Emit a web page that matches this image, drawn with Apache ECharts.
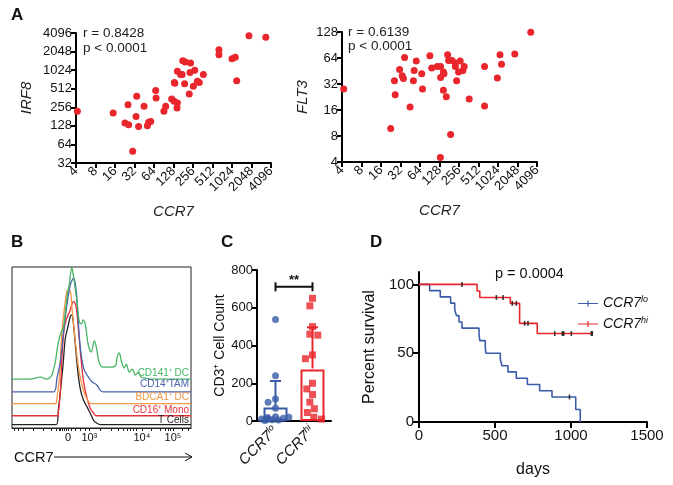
<!DOCTYPE html>
<html><head><meta charset="utf-8">
<script src="https://cdn.jsdelivr.net/npm/echarts@6/dist/echarts.min.js"></script>
<style>html,body{margin:0;padding:0;background:#fff}#c{width:673px;height:485px}</style>
</head><body><div id="c"></div><script>
const FONT = 'Liberation Sans, Arial, Helvetica, sans-serif';
const RED = '#e8262c', BLUE = '#3a5ca8';

// ---------- Panel A: IRF8 vs CCR7 ----------
const irf8CCR7 = [4.2,15,25.4,22.8,26,30,33.8,34.6,37,45,50.6,53,57,68,69,91,97,120,131,132,134,147,145,147,165,174,178,195,190,224,235,230,259,272,299,320,370,644,644,1024,1150,1210,1870,3400];
const irf8Vals = [220,206,282,142,133,49.5,182,385,125,265,129,146,151,481,362,220,265,350,320,648,630,300,249,983,867,870,1458,1390,617,419,1333,942,560,1017,676,648,867,2200,1820,1570,1650,690,3710,3490];
// ---------- Panel A: FLT3 vs CCR7 ----------
const flt3CCR7 = [4.25,22.6,25.8,26.5,31,34,35.5,37,45,50.6,52,56,68,70,91,97,118,133,133,132,147,150,147,163,171,177,190,200,225,225,235,252,267,294,308,368,635,635,1000,1100,1160,1860,3280];
const flt3Vals = [28,9.8,35,24,47,40,37,65,17.3,35,46,59,42,28,68,49,51,51,38,4.5,44,42,27,22.8,70,60,8.3,60,56,51,35,44,59,46,51,21.4,51,17.8,37.5,70,54,71,127];

// ---------- Panel B: flow histograms (display units) ----------
const histNames = ['CD141⁺ DC','CD14⁺TAM','BDCA1⁺ DC','CD16⁺ Mono','T Cells'];
const histColors = ['#45b564','#4862ad','#f39645','#e8303a','#222222'];
const histCD141 = [[0,30.4],[10.2,30.4],[14.1,31.3],[15.8,31.8],[17.5,31.0],[19.7,30.4],[21.4,31.6],[22.5,33.5],[24.2,41.0],[25.9,53.4],[27.5,59.6],[28.7,62.2],[29.8,72.1],[30.9,82.7],[32.0,89.0],[33.4,99.6],[34.2,95.2],[35.4,85.8],[36.5,76.5],[37.6,65.9],[38.7,64.7],[39.8,67.1],[41.0,64.0],[42.6,51.6],[44.3,47.2],[46.0,54.1],[47.1,50.3],[48.8,40.3],[51.0,37.8],[54.9,37.8],[57.7,38.5],[58.8,44.1],[59.9,46.6],[61.1,41.6],[62.7,37.2],[63.9,39.7],[65.5,34.7],[67.2,36.6],[68.9,32.9],[70.6,34.7],[72.2,31.6],[74.5,31.0],[77.3,30.4],[100,30.4]];
const histCD14 = [[0,22.4],[23.2,22.4],[25.1,31.0],[27.0,41.1],[28.8,59.9],[30.7,76.5],[32.6,89.0],[34.4,93.1],[35.9,84.8],[36.9,68.4],[38.2,49.7],[40.0,37.2],[41.9,32.9],[44.7,28.7],[47.5,26.6],[49.3,23.4],[51.0,22.4],[100,22.4]];
const histBDCA1 = [[0,15.1],[24.2,15.1],[25.1,18.5],[26.6,32.9],[27.9,59.9],[29.8,78.6],[31.1,85.8],[32.6,84.8],[33.5,74.6],[35.4,53.6],[37.2,37.2],[39.1,26.6],[40.9,20.4],[42.8,16.2],[44.3,15.1],[100,15.1]];
const histCD16 = [[0,7.6],[25.3,7.6],[26.0,10.0],[27.0,22.4],[27.9,43.5],[29.2,62.2],[30.7,68.4],[32.2,72.3],[34.4,78.6],[35.8,75.4],[37.2,59.9],[38.5,43.5],[40.0,28.7],[41.9,18.5],[43.7,12.3],[45.6,9.2],[47.1,7.6],[100,7.6]];
const histTcell = [[0,2.1],[24.7,2.1],[26.0,12.3],[27.0,22.4],[28.5,39.1],[29.8,55.9],[31.1,62.2],[32.6,69.2],[33.5,70.3],[34.4,64.0],[35.9,45.3],[37.2,31.0],[38.5,22.4],[40.0,17.3],[41.9,13.1],[43.7,9.2],[45.6,4.8],[47.5,2.9],[49.3,2.1],[100,2.1]];
const histLabelPos = [31.3, 43.2, 72.6, 89.9];
const histLabelText = ['0','10³','10⁴','10⁵'];
const histTickPos = [1.5,3.5,6.2,12,17.3,21.9,24.8,26.2,27.2,28.2,29.2,30.2,31.3,33,35.1,38.2,41.2,43.2,49.3,55.4,59.1,61.9,64.2,66.1,67.9,69.4,72.6,78,83,85.5,87.2,88.6,89.9,95,98.5];

// ---------- Panel C: CD3+ cell count ----------
const groupsC = ['lo','hi'];
const cd3Lo = [538,240,116,100,67,22,18,14,10,8,5,12,3,20,6];
const cd3Hi = [650,610,500,460,455,350,330,200,170,140,100,65,45,20,10];
const cd3Mean = [72, 273];
const cd3ErrTop = [212, 496];
const sigLevel = 711;

// ---------- Panel D: survival ----------
const loDays = [0,70,140,208,235,246,263,283,395,400,436,440,535,546,585,640,713,794,875,1031,1061];
const loSurv = [100,95.5,90.9,86.4,81.8,77.3,72.7,68.2,63.6,59.1,54.5,50,45.5,40.9,36.4,31.8,27.3,22.7,18.2,9.1,0];
const loCensDays = [990]; const loCensSurv = [18.2];
const hiDays = [0,382,400,601,662,778,1145];
const hiSurv = [100,95.2,90.5,86.2,71.7,64.3,64.3];
const hiCensDays = [283,509,553,614,640,695,717,893,943,952,1002,1134,1140];
const hiCensSurv = [100,90.5,90.5,86.2,86.2,71.7,71.7,64.3,64.3,64.3,64.3,64.3,64.3];

const zip = (a,b) => a.map((v,i)=>[v,b[i]]);
const plain = (v) => String(Math.round(v));

const axisLine = {show:true, lineStyle:{color:'#000', width:2}};
const axisTick = {show:true, length:5, lineStyle:{color:'#000', width:2}};
const lbl = (fs) => ({color:'#111', fontSize:fs, fontFamily:FONT});

const chart = echarts.init(document.getElementById('c'), null, {renderer:'canvas'});
const option = {
  animation:false,
  backgroundColor:'#fff',
  textStyle:{fontFamily:FONT},
  grid:[
    {left:76, top:33, width:195, height:130},
    {left:342, top:32, width:195, height:130},
    {left:12, top:267, width:179, height:161, show:true, borderColor:'#222', borderWidth:1, backgroundColor:'transparent'},
    {left:257, top:270, width:74, height:151},
    {left:419, top:272, width:228, height:150}
  ],
  xAxis:[
    {gridIndex:0, type:'log', logBase:2, min:4, max:4096, interval:1, axisLine, axisTick, splitLine:{show:false},
     axisLabel:{...lbl(13), rotate:45, margin:6, formatter:plain}, name:'CCR7', nameLocation:'middle', nameGap:41,
     nameTextStyle:{fontSize:15, fontStyle:'italic', color:'#222', fontFamily:FONT}},
    {gridIndex:1, type:'log', logBase:2, min:4, max:4096, interval:1, axisLine, axisTick, splitLine:{show:false},
     axisLabel:{...lbl(13), rotate:45, margin:6, formatter:plain}, name:'CCR7', nameLocation:'middle', nameGap:41,
     nameTextStyle:{fontSize:15, fontStyle:'italic', color:'#222', fontFamily:FONT}},
    {gridIndex:2, type:'value', min:0, max:100, axisLine:{show:true, lineStyle:{color:'#222', width:1}},
     axisTick:{show:true, length:3, customValues:histTickPos, lineStyle:{color:'#222', width:1}},
     axisLabel:{...lbl(11), customValues:histLabelPos, margin:4,
       formatter:(v)=>{const i=histLabelPos.indexOf(v); return i>=0?histLabelText[i]:'';}},
     splitLine:{show:false}},
    {gridIndex:3, type:'category', data:groupsC, jitter:30, jitterOverlap:false, jitterMargin:1,
     axisLine, axisTick:{show:false},
     axisLabel:{rotate:45, margin:8, formatter:(v)=>'{a|CCR7}{b|'+v+'}',
       rich:{a:{fontSize:15, fontStyle:'italic', color:'#111', fontFamily:FONT},
             b:{fontSize:9, fontStyle:'italic', color:'#111', fontFamily:FONT, padding:[0,0,8,0]}}}},
    {gridIndex:4, type:'value', min:0, max:1500, interval:500, axisLine, axisTick:{...axisTick, length:6},
     splitLine:{show:false}, axisLabel:{...lbl(15), margin:6, formatter:plain}, name:'days', nameLocation:'middle', nameGap:40,
     nameTextStyle:{fontSize:16, color:'#111', fontFamily:FONT}}
  ],
  yAxis:[
    {gridIndex:0, type:'log', logBase:2, min:32, max:4096, interval:1, axisLine, axisTick, splitLine:{show:false},
     axisLabel:{...lbl(13), margin:4, formatter:plain}, name:'IRF8', nameLocation:'middle', nameGap:42,
     nameTextStyle:{fontSize:15, fontStyle:'italic', color:'#222', fontFamily:FONT}},
    {gridIndex:1, type:'log', logBase:2, min:4, max:128, interval:1, axisLine, axisTick, splitLine:{show:false},
     axisLabel:{...lbl(13), margin:4, formatter:plain}, name:'FLT3', nameLocation:'middle', nameGap:32,
     nameTextStyle:{fontSize:15, fontStyle:'italic', color:'#222', fontFamily:FONT}},
    {gridIndex:2, type:'value', min:0, max:100, show:false},
    {gridIndex:3, type:'value', min:0, max:800, interval:200, axisLine, axisTick, splitLine:{show:false},
     axisLabel:{...lbl(13), margin:4}, name:'CD3⁺ Cell Count', nameLocation:'middle', nameGap:27,
     nameTextStyle:{fontSize:14, color:'#111', fontFamily:FONT}},
    {gridIndex:4, type:'value', min:0, max:109, axisLine, axisTick:{...axisTick, length:6, customValues:[0,50,100]},
     splitLine:{show:false}, axisLabel:{...lbl(15), margin:5, customValues:[0,50,100]},
     name:'Percent survival', nameLocation:'middle', nameGap:41,
     nameTextStyle:{fontSize:16, color:'#111', fontFamily:FONT}}
  ],
  legend:{
    left:573, top:290, orient:'vertical', itemGap:5, itemWidth:20, itemHeight:8,
    icon:'path://M0,3.5H20V4.5H0Z M9.4,1H10.6V7H9.4Z',
    data:['CCR7lo','CCR7hi'],
    formatter:(n)=>'{a|CCR7}{b|'+n.slice(4)+'}',
    textStyle:{rich:{a:{fontSize:14, fontStyle:'italic', color:'#111', fontFamily:FONT},
                     b:{fontSize:9, fontStyle:'italic', color:'#111', fontFamily:FONT, padding:[0,0,8,0]}}}
  },
  series:[
    {type:'scatter', xAxisIndex:0, yAxisIndex:0, data:zip(irf8CCR7, irf8Vals), symbolSize:7, itemStyle:{color:RED, opacity:1}},
    {type:'scatter', xAxisIndex:1, yAxisIndex:1, data:zip(flt3CCR7, flt3Vals), symbolSize:7, itemStyle:{color:RED, opacity:1}},
    ...[histCD141, histCD14, histBDCA1, histCD16, histTcell].map((d,i)=>({
      type:'line', xAxisIndex:2, yAxisIndex:2, data:d, smooth:0.35, showSymbol:false,
      lineStyle:{color:histColors[i], width:1.3}, z: 10-i, name:histNames[i]
    })),
    {type:'bar', xAxisIndex:3, yAxisIndex:3, data:[
        {value:cd3Mean[0], itemStyle:{borderColor:BLUE}},
        {value:cd3Mean[1], itemStyle:{borderColor:RED}}],
     barWidth:24, itemStyle:{color:'rgba(0,0,0,0)', borderWidth:2}, z:2},
    {type:'custom', xAxisIndex:3, yAxisIndex:3, z:3,
     data:groupsC.map((g,i)=>[i, cd3Mean[i], cd3ErrTop[i]]),
     renderItem:(params, api)=>{
       const i = api.value(0);
       const p0 = api.coord([i, api.value(1)]), p1 = api.coord([i, api.value(2)]);
       const c = i===0?BLUE:RED, hw=5.5;
       return {type:'group', children:[
         {type:'line', shape:{x1:p0[0],y1:p0[1]-1,x2:p1[0],y2:p1[1]}, style:{stroke:c, lineWidth:2}},
         {type:'line', shape:{x1:p1[0]-hw,y1:p1[1],x2:p1[0]+hw,y2:p1[1]}, style:{stroke:c, lineWidth:2}}
       ]};
     }},
    {type:'custom', xAxisIndex:3, yAxisIndex:3, z:3, data:[[0, sigLevel]],
     renderItem:(params, api)=>{
       const a = api.coord([0, api.value(1)]), b = api.coord([1, api.value(1)]);
       return {type:'group', children:[
         {type:'line', shape:{x1:a[0],y1:a[1],x2:b[0],y2:b[1]}, style:{stroke:'#111', lineWidth:2}},
         {type:'line', shape:{x1:a[0],y1:a[1]-4.5,x2:a[0],y2:a[1]+4.5}, style:{stroke:'#111', lineWidth:2}},
         {type:'line', shape:{x1:b[0],y1:b[1]-4.5,x2:b[0],y2:b[1]+4.5}, style:{stroke:'#111', lineWidth:2}},
         {type:'text', x:(a[0]+b[0])/2, y:a[1]-6, style:{text:'**', fontSize:13, fontWeight:'bold', fill:'#111', align:'center', verticalAlign:'middle', fontFamily:FONT}}
       ]};
     }},
    {type:'scatter', xAxisIndex:3, yAxisIndex:3, data:cd3Lo.map(v=>['lo',v]), symbol:'circle', symbolSize:7, itemStyle:{color:BLUE}, z:4},
    {type:'scatter', xAxisIndex:3, yAxisIndex:3, data:cd3Hi.map(v=>['hi',v]), symbol:'rect', symbolSize:7, itemStyle:{color:RED}, z:4},
    {type:'line', name:'CCR7lo', xAxisIndex:4, yAxisIndex:4, data:zip(loDays, loSurv), step:'end', showSymbol:false,
     lineStyle:{color:BLUE, width:1.6}, itemStyle:{color:BLUE}},
    {type:'line', name:'CCR7hi', xAxisIndex:4, yAxisIndex:4, data:zip(hiDays, hiSurv), step:'end', showSymbol:false,
     lineStyle:{color:RED, width:1.6}, itemStyle:{color:RED}},
    {type:'scatter', xAxisIndex:4, yAxisIndex:4, data:zip(loCensDays, loCensSurv), symbol:'rect', symbolSize:[1.6,5], itemStyle:{color:'#111'}, z:5},
    {type:'scatter', xAxisIndex:4, yAxisIndex:4, data:zip(hiCensDays, hiCensSurv), symbol:'rect', symbolSize:[1.6,5], itemStyle:{color:'#111'}, z:5}
  ],
  graphic:[
    {type:'text', left:11, top:7, style:{text:'A', fontSize:17, fontWeight:'bold', fill:'#111', fontFamily:FONT}},
    {type:'text', left:11, top:234, style:{text:'B', fontSize:17, fontWeight:'bold', fill:'#111', fontFamily:FONT}},
    {type:'text', left:221, top:234, style:{text:'C', fontSize:17, fontWeight:'bold', fill:'#111', fontFamily:FONT}},
    {type:'text', left:370, top:234, style:{text:'D', fontSize:17, fontWeight:'bold', fill:'#111', fontFamily:FONT}},
    {type:'text', x:83, y:33, style:{text:'r = 0.8428', fontSize:13.5, fill:'#222', verticalAlign:'middle', fontFamily:FONT}},
    {type:'text', x:83, y:48, style:{text:'p < 0.0001', fontSize:13.5, fill:'#222', verticalAlign:'middle', fontFamily:FONT}},
    {type:'text', x:348, y:32, style:{text:'r = 0.6139', fontSize:13.5, fill:'#222', verticalAlign:'middle', fontFamily:FONT}},
    {type:'text', x:348, y:46, style:{text:'p < 0.0001', fontSize:13.5, fill:'#222', verticalAlign:'middle', fontFamily:FONT}},
    {type:'text', x:495, y:274, style:{text:'p = 0.0004', fontSize:14.5, fill:'#111', verticalAlign:'middle', fontFamily:FONT}},
    ...histNames.map((n,i)=>({type:'text', x:189, y:[373.3,384.5,397.7,410.7,420.7][i],
        style:{text:n, fontSize:10, fill:histColors[i], align:'right', verticalAlign:'middle', fontFamily:FONT}, z:20})),
    {type:'text', x:14, y:457.5, style:{text:'CCR7', fontSize:14.5, fill:'#111', verticalAlign:'middle', fontFamily:FONT}},
    {type:'polyline', shape:{points:[[54,457],[192,457]]}, style:{stroke:'#111', lineWidth:1}},
    {type:'polyline', shape:{points:[[185,453],[192,457],[185,461]]}, style:{stroke:'#111', lineWidth:1, fill:'none'}}
  ]
};
chart.setOption(option);
</script></body></html>
